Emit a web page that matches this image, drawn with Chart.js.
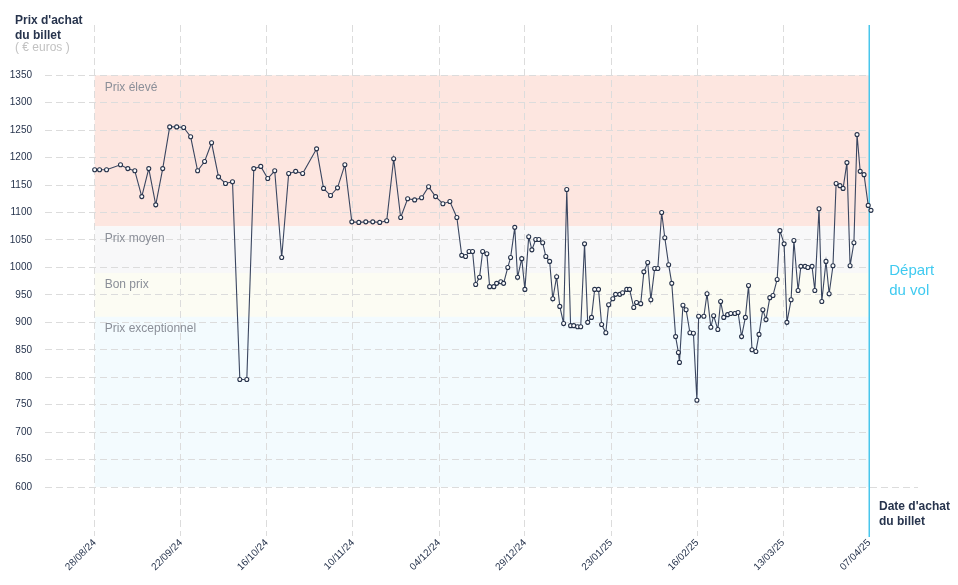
<!DOCTYPE html>
<html lang="fr">
<head>
<meta charset="utf-8">
<title>Prix d'achat du billet</title>
<script src="https://cdn.jsdelivr.net/npm/chart.js@4.4.1/dist/chart.umd.min.js"></script>
<style>
  html, body { margin: 0; padding: 0; background: #fff; }
  #wrap { width: 958px; height: 585px; position: relative; }
</style>
</head>
<body>
<div id="wrap"><canvas id="priceChart"></canvas></div>
<script>
// Day of purchase, counted from 28/08/24
const purchaseDays = [
    0, 1.4, 3.4, 7.4, 9.5, 11.5, 13.5, 15.5, 17.5, 19.5,
    21.5, 23.5, 25.5, 27.5, 29.5, 31.5, 33.5, 35.5, 37.5, 39.5,
    41.6, 43.6, 45.6, 47.6, 49.6, 51.6, 53.6, 55.6, 57.6, 59.6,
    63.6, 65.6, 67.6, 69.6, 71.7, 73.7, 75.7, 77.7, 79.7, 81.7,
    83.7, 85.7, 87.7, 89.7, 91.7, 93.7, 95.7, 97.7, 99.8, 101.8,
    103.8, 105.2, 106.3, 107.3, 108.3, 109.2, 110.3, 111.2, 112.4, 113.2,
    114.4, 115.2, 116.4, 117.2, 118.4, 119.2, 120.4, 121.2, 122.4, 123.3,
    124.4, 125.3, 126.4, 127.3, 128.4, 129.3, 130.4, 131.3, 132.4, 133.3,
    134.4, 135.3, 136.4, 137.3, 138.4, 139.3, 140.4, 141.3, 142.4, 143.3,
    144.4, 145.3, 146.5, 147.3, 148.5, 149.3, 150.5, 151.3, 152.5, 153.3,
    154.5, 155.3, 156.5, 157.4, 158.5, 159.4, 160.5, 161.4, 162.5, 163.4,
    164.5, 165.4, 166.5, 167.3, 167.6, 168.6, 169.5, 170.6, 171.6, 172.6,
    173.1, 174.6, 175.5, 176.6, 177.4, 178.6, 179.4, 180.3, 181.4, 182.3,
    183.5, 184.4, 185.4, 186.5, 187.4, 188.4, 189.5, 190.4, 191.5, 192.4,
    193.5, 194.4, 195.6, 196.4, 197.6, 198.4, 199.6, 200.4, 201.6, 202.4,
    203.6, 204.4, 205.6, 206.4, 207.6, 208.4, 209.6, 210.5, 211.6, 212.5,
    213.6, 214.5, 215.6, 216.5, 217.6, 218.5, 219.4, 220.5, 221.7, 222.5
];

// Ticket price (euros)
const prices = [
    1178, 1178, 1178, 1187, 1180, 1176, 1129, 1180, 1114, 1180,
    1256, 1256, 1255, 1238, 1176, 1193, 1227, 1165, 1153, 1156,
    796, 796, 1180, 1184, 1162, 1176, 1018, 1171, 1175, 1171,
    1216, 1144, 1131, 1145, 1187, 1083, 1082, 1083, 1083, 1082,
    1085, 1198, 1091, 1125, 1123, 1127, 1147, 1129, 1116, 1120,
    1091, 1022, 1020, 1029, 1029, 969, 982, 1029, 1025, 965,
    965, 971, 974, 971, 1000, 1018, 1073, 982, 1016, 960,
    1056, 1032, 1051, 1051, 1045, 1020, 1011, 943, 983, 929,
    898, 1142, 894, 894, 892, 892, 1043, 900, 909, 960,
    960, 896, 881, 932, 943, 951, 951, 954, 960, 960,
    927, 936, 934, 992, 1009, 941, 998, 998, 1100, 1054,
    1005, 971, 874, 845, 827, 931, 923, 881, 880, 758,
    911, 911, 952, 891, 912, 887, 938, 909, 914, 916,
    916, 918, 874, 909, 967, 850, 847, 878, 923, 905,
    945, 949, 978, 1067, 1043, 900, 941, 1049, 958, 1002,
    1002, 1000, 1002, 958, 1107, 938, 1011, 952, 1003, 1153,
    1149, 1144, 1191, 1003, 1045, 1242, 1175, 1169, 1113, 1104
];

const xTickDays = [0, 24.7, 49.3, 74, 98.7, 123.3, 148, 172.7, 197.3, 222];
const xTickLabels = ['28/08/24', '22/09/24', '16/10/24', '10/11/24', '04/12/24',
                     '29/12/24', '23/01/25', '16/02/25', '13/03/25', '07/04/25'];
const yTicks = [600, 650, 700, 750, 800, 850, 900, 950, 1000, 1050, 1100, 1150, 1200, 1250, 1300, 1350];

// Price ranges
const bandLabels = ['Prix élevé', 'Prix moyen', 'Bon prix', 'Prix exceptionnel'];
const bandTop = [1350, 1075, 990, 910];
const bandBottom = [1075, 990, 910, 600];
const bandColors = ['#fde6e0', '#f8f8f9', '#fcfcf3', '#f3fbfe'];

const departureDay = 222;

const FONT = '"Liberation Sans", Arial, sans-serif';
const NAVY = '#27344d';

// Coloured price bands behind the grid
const bandsPlugin = {
    id: 'bands',
    beforeDraw(chart) {
        const { ctx, scales: { x, y } } = chart;
        const left = x.getPixelForValue(0);
        const right = x.getPixelForValue(departureDay);
        ctx.save();
        bandLabels.forEach((label, i) => {
            const top = y.getPixelForValue(bandTop[i]);
            const bottom = y.getPixelForValue(bandBottom[i]);
            ctx.fillStyle = bandColors[i];
            ctx.fillRect(left, top, right - left, bottom - top);
        });
        ctx.restore();
    },
    beforeDatasetsDraw(chart) {
        const { ctx, chartArea, scales: { x, y } } = chart;
        const left = x.getPixelForValue(0);
        const depX = x.getPixelForValue(departureDay);
        ctx.save();
        // nothing after the departure, except the base line
        ctx.fillStyle = '#fff';
        ctx.fillRect(depX, chartArea.top - 2, chartArea.right - depX + 2, y.getPixelForValue(625) - chartArea.top + 2);

        ctx.font = '12px ' + FONT;
        ctx.fillStyle = '#8b8f98';
        ctx.textBaseline = 'middle';
        bandLabels.forEach((label, i) => {
            ctx.fillText(label, left + 10, y.getPixelForValue(bandTop[i]) + 12);
        });

        // departure line
        ctx.strokeStyle = '#49c6ec';
        ctx.lineWidth = 1.5;
        ctx.beginPath();
        ctx.moveTo(depX, chartArea.top);
        ctx.lineTo(depX, chartArea.bottom + 1);
        ctx.stroke();

        ctx.fillStyle = '#3fcaf0';
        ctx.font = '15px ' + FONT;
        ctx.textBaseline = 'alphabetic';
        ctx.fillText('Départ', depX + 20, 275);
        ctx.fillText('du vol', depX + 20, 295);
        ctx.restore();
    },
    afterDraw(chart) {
        const { ctx } = chart;
        ctx.save();
        ctx.textBaseline = 'alphabetic';
        ctx.fillStyle = NAVY;
        ctx.font = 'bold 12px ' + FONT;
        ctx.fillText("Prix d'achat", 15, 24);
        ctx.fillText('du billet', 15, 39);
        ctx.fillText("Date d'achat", 879, 510);
        ctx.fillText('du billet', 879, 525);
        ctx.fillStyle = '#c2c2c2';
        ctx.font = '12px ' + FONT;
        ctx.fillText('( € euros )', 15, 51);
        ctx.restore();
    }
};

const ctx = document.getElementById('priceChart').getContext('2d');
const priceChart = new Chart(ctx, {
    type: 'line',
    data: {
        datasets: [{
            label: "Prix d'achat du billet",
            data: purchaseDays.map((d, i) => ({ x: d, y: prices[i] })),
            borderColor: '#3a4660',
            borderWidth: 1.1,
            pointRadius: 2,
            pointBackgroundColor: '#ffffff',
            pointBorderColor: '#26324a',
            pointBorderWidth: 1.1,
            tension: 0
        }]
    },
    options: {
        responsive: true,
        maintainAspectRatio: false,
        animation: false,
        layout: {
            padding: { top: 25, right: 40, left: 0, bottom: 0 }
        },
        plugins: {
            legend: { display: false },
            tooltip: { enabled: false }
        },
        scales: {
            x: {
                type: 'linear',
                min: -14.24,
                max: 235.97,
                afterBuildTicks: axis => { axis.ticks = xTickDays.map(v => ({ value: v })); },
                afterFit: axis => { axis.height = 49; },
                border: { display: false, dash: [7, 4] },
                grid: {
                    color: '#dcdcdc',
                    lineWidth: 1,
                    drawTicks: false
                },
                ticks: {
                    autoSkip: false,
                    minRotation: 45,
                    maxRotation: 45,
                    padding: 1,
                    color: NAVY,
                    font: { family: FONT, size: 10 },
                    callback: (value, index) => xTickLabels[index]
                }
            },
            y: {
                min: 510.8,
                max: 1441.6,
                afterBuildTicks: axis => { axis.ticks = yTicks.map(v => ({ value: v })); },
                afterFit: axis => { axis.width = 45; },
                border: { display: false, dash: [7, 4] },
                grid: {
                    color: '#dcdcdc',
                    lineWidth: 1,
                    drawTicks: false
                },
                ticks: {
                    padding: 13,
                    color: NAVY,
                    font: { family: FONT, size: 10 },
                    callback: value => String(value)
                }
            }
        }
    },
    plugins: [bandsPlugin]
});
</script>
</body>
</html>
